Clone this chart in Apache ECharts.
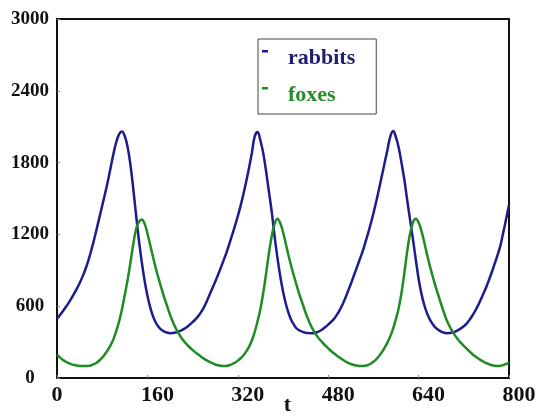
<!DOCTYPE html>
<html>
<head>
<meta charset="utf-8">
<script src="https://cdn.jsdelivr.net/npm/echarts@6/dist/echarts.min.js"></script>
<style>
  html, body { margin: 0; padding: 0; background: #fff; }
  #chart { width: 539px; height: 417px; }
</style>
</head>
<body>
<div id="chart"></div>
<script>
// time axis, step 5
var tValues = [
  0, 5, 10, 15, 20, 25, 30, 35, 40, 45,
  50, 55, 60, 65, 70, 75, 80, 85, 90, 95,
  100, 105, 110, 115, 120, 125, 130, 135, 140, 145,
  150, 155, 160, 165, 170, 175, 180, 185, 190, 195,
  200, 205, 210, 215, 220, 225, 230, 235, 240, 245,
  250, 255, 260, 265, 270, 275, 280, 285, 290, 295,
  300, 305, 310, 315, 320, 325, 330, 335, 340, 345,
  350, 355, 360, 365, 370, 375, 380, 385, 390, 395,
  400, 405, 410, 415, 420, 425, 430, 435, 440, 445,
  450, 455, 460, 465, 470, 475, 480, 485, 490, 495,
  500, 505, 510, 515, 520, 525, 530, 535, 540, 545,
  550, 555, 560, 565, 570, 575, 580, 585, 590, 595,
  600, 605, 610, 615, 620, 625, 630, 635, 640, 645,
  650, 655, 660, 665, 670, 675, 680, 685, 690, 695,
  700, 705, 710, 715, 720, 725, 730, 735, 740, 745,
  750, 755, 760, 765, 770, 775, 780, 785, 790, 795,
  800
];

var rabbits = [
  495, 525, 556, 589, 624, 662, 703, 745, 792, 845,
  905, 975, 1055, 1145, 1240, 1340, 1440, 1540, 1645, 1760,
  1875, 1972, 2038, 2060, 2020, 1930, 1780, 1580, 1360, 1150,
  970, 815, 690, 590, 515, 462, 426, 402, 388, 380,
  375, 376, 380, 388, 398, 411, 427, 446, 467, 490,
  517, 550, 590, 640, 695, 750, 805, 862, 922, 985,
  1048, 1120, 1195, 1272, 1352, 1440, 1538, 1645, 1760, 1885,
  2020, 2055, 1985, 1880, 1730, 1560, 1390, 1190, 1010, 855,
  725, 620, 540, 480, 440, 410, 395, 385, 378, 375,
  374, 376, 382, 393, 408, 426, 446, 468, 492, 525,
  565, 610, 665, 725, 785, 850, 915, 980, 1045, 1120,
  1200, 1285, 1375, 1475, 1580, 1690, 1800, 1910, 2020, 2065,
  2010, 1920, 1790, 1650, 1480, 1320, 1160, 990, 830, 705,
  610, 540, 488, 450, 420, 402, 388, 379, 375, 376,
  380, 388, 400, 415, 432, 455, 485, 520, 560, 605,
  655, 708, 763, 825, 890, 960, 1030, 1110, 1220, 1330,
  1445
];

var foxes = [
  195, 172, 153, 138, 126, 116, 109, 104, 101, 100,
  100, 101, 105, 115, 128, 146, 170, 200, 235, 275,
  325, 395, 475, 575, 695, 820, 965, 1120, 1245, 1305,
  1325, 1290, 1210, 1110, 1010, 915, 828, 746, 670, 600,
  530, 470, 418, 374, 337, 306, 279, 255, 234, 214,
  196, 178, 162, 148, 135, 124, 113, 106, 102, 100,
  101, 106, 116, 128, 145, 165, 190, 222, 262, 315,
  385, 475, 575, 710, 870, 1040, 1185, 1285, 1330, 1295,
  1220, 1120, 1020, 928, 842, 760, 685, 615, 545, 485,
  432, 388, 352, 322, 296, 271, 248, 226, 206, 188,
  171, 155, 140, 127, 117, 109, 104, 101, 100, 102,
  108, 119, 135, 156, 183, 216, 255, 298, 350, 415,
  495, 590, 720, 885, 1065, 1210, 1300, 1330, 1300, 1230,
  1135, 1030, 935, 848, 766, 690, 615, 545, 480, 430,
  388, 352, 320, 293, 268, 245, 222, 201, 182, 165,
  150, 136, 124, 114, 106, 102, 101, 103, 108, 117,
  128
];

var seriesNames = ['rabbits', 'foxes'];
var seriesColors = ['#1c1c8e', '#1f8c23'];
var legendColors = ['#20206e', '#2b8a2b'];

function pairs(ys) {
  var out = [];
  for (var i = 0; i < tValues.length; i++) {
    out.push([tValues[i], ys[i]]);
  }
  return out;
}

var serif = 'Liberation Serif';
var chart = echarts.init(document.getElementById('chart'));

chart.setOption({
  animation: false,
  backgroundColor: '#fff',
  grid: {
    left: 57, top: 19, right: 30, bottom: 39,
    outerBoundsMode: 'none',
    containLabel: false,
    show: true, borderColor: '#111', borderWidth: 2
  },
  legend: {
    left: 258, top: 39,
    orient: 'vertical',
    backgroundColor: '#fff',
    borderColor: '#444', borderWidth: 1,
    padding: [8, 21, 8, 4],
    itemGap: 15,
    itemWidth: 21, itemHeight: 16,
    icon: 'path://M0,0h6v2.5h-6zM21,16',
    data: [
      { name: seriesNames[0], textStyle: { color: legendColors[0] } },
      { name: seriesNames[1], textStyle: { color: legendColors[1] } }
    ],
    textStyle: { fontFamily: serif, fontWeight: 'bold', fontSize: 22 }
  },
  xAxis: {
    type: 'value',
    min: 0, max: 800, interval: 160,
    name: 't',
    nameLocation: 'middle',
    nameGap: 16,
    nameMoveOverlap: false,
    nameTextStyle: {
      fontFamily: serif, fontWeight: 'bold', fontSize: 22, color: '#111',
      padding: [0, 0, 0, 9]
    },
    axisLine: { show: false },
    axisTick: { show: true, inside: true, length: 3, lineStyle: { color: '#888' } },
    splitLine: { show: false },
    axisLabel: {
      margin: 6,
      formatter: function (v) {
        return v === 0 ? '{z|0}' : '{n|' + v + '}';
      },
      rich: {
        z: { fontFamily: serif, fontWeight: 'bold', fontSize: 22, color: '#111' },
        n: { fontFamily: serif, fontWeight: 'bold', fontSize: 22, color: '#111', padding: [0, 0, 0, 20] }
      }
    }
  },
  yAxis: {
    type: 'value',
    min: 0, max: 3000, interval: 600,
    axisLine: { show: false },
    axisTick: { show: true, inside: true, length: 3, lineStyle: { color: '#888' } },
    splitLine: { show: false },
    axisLabel: {
      align: 'center',
      margin: 27,
      formatter: function (v) { return String(v); },
      fontFamily: serif, fontWeight: 'bold', fontSize: 19, color: '#111'
    }
  },
  series: [
    {
      name: seriesNames[0],
      type: 'line',
      data: pairs(rabbits),
      showSymbol: false,
      smooth: 0.4,
      lineStyle: { color: seriesColors[0], width: 2.5 },
      itemStyle: { color: seriesColors[0] }
    },
    {
      name: seriesNames[1],
      type: 'line',
      data: pairs(foxes),
      showSymbol: false,
      smooth: 0.4,
      lineStyle: { color: seriesColors[1], width: 2.5 },
      itemStyle: { color: seriesColors[1] }
    }
  ]
});
</script>
</body>
</html>
